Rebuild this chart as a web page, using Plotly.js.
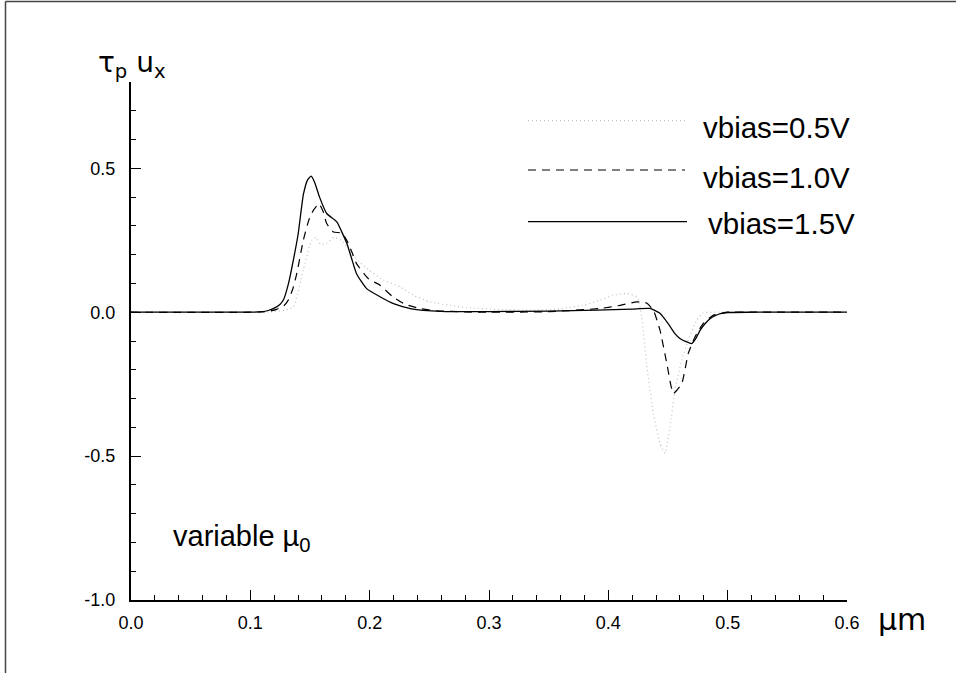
<!DOCTYPE html>
<html>
<head>
<meta charset="utf-8">
<script src="https://cdn.plot.ly/plotly-3.0.1.min.js"></script>
<style>html,body{margin:0;padding:0;background:#fff;}#chart{width:956px;height:673px;}</style>
</head>
<body>
<div id="chart"></div>
<script>
// ---- data ----
const seriesNames = ["vbias=0.5V", "vbias=1.0V", "vbias=1.5V"];

const x05 = [0, 0.10, 0.12, 0.13, 0.136, 0.1444, 0.1514, 0.155, 0.159, 0.164, 0.17, 0.176, 0.182, 0.19, 0.2, 0.21, 0.2254, 0.2366, 0.2506, 0.2673, 0.2813, 0.309, 0.337, 0.36, 0.38, 0.393, 0.404, 0.415, 0.424, 0.428, 0.432, 0.4377, 0.4433, 0.4475, 0.4517, 0.4559, 0.4615, 0.467, 0.474, 0.479, 0.49, 0.52, 0.6];
const y05 = [0, 0, 0.002, 0.008, 0.018, 0.146, 0.25, 0.26, 0.235, 0.24, 0.26, 0.25, 0.22, 0.18, 0.145, 0.115, 0.088, 0.059, 0.036, 0.024, 0.016, 0.009, 0.007, 0.012, 0.025, 0.042, 0.059, 0.065, 0.053, -0.016, -0.178, -0.352, -0.456, -0.49, -0.398, -0.27, -0.167, -0.097, -0.028, -0.003, 0, 0, 0];

const x10 = [0, 0.10, 0.115, 0.122, 0.128, 0.1318, 0.1355, 0.1389, 0.1444, 0.149, 0.1528, 0.1575, 0.161, 0.164, 0.1696, 0.1766, 0.1808, 0.185, 0.189, 0.1988, 0.2087, 0.219, 0.2296, 0.242, 0.256, 0.28, 0.30, 0.35, 0.393, 0.41, 0.4238, 0.432, 0.4377, 0.4433, 0.449, 0.4545, 0.4615, 0.467, 0.4726, 0.4796, 0.488, 0.4936, 0.50, 0.52, 0.6];
const y10 = [0, 0, 0.003, 0.01, 0.022, 0.042, 0.08, 0.134, 0.25, 0.32, 0.354, 0.377, 0.35, 0.308, 0.279, 0.275, 0.25, 0.21, 0.169, 0.117, 0.094, 0.055, 0.028, 0.013, 0.005, 0.001, 0, 0.002, 0.013, 0.024, 0.036, 0.032, 0.007, -0.0625, -0.178, -0.282, -0.248, -0.143, -0.086, -0.039, -0.01, -0.005, 0, 0, 0];

const x15 = [0, 0.10, 0.11, 0.115, 0.12, 0.125, 0.128, 0.132, 0.136, 0.140, 0.1445, 0.148, 0.151, 0.154, 0.158, 0.164, 0.1725, 0.1765, 0.181, 0.185, 0.189, 0.1975, 0.209, 0.22, 0.235, 0.26, 0.30, 0.35, 0.39, 0.42, 0.435, 0.443, 0.4475, 0.452, 0.456, 0.46, 0.465, 0.4698, 0.4735, 0.477, 0.481, 0.4855, 0.4895, 0.494, 0.50, 0.52, 0.6];
const y15 = [0, 0, 0.002, 0.006, 0.014, 0.028, 0.045, 0.10, 0.18, 0.27, 0.41, 0.46, 0.473, 0.45, 0.40, 0.343, 0.314, 0.28, 0.238, 0.185, 0.134, 0.082, 0.053, 0.03, 0.012, 0.003, 0.002, 0.004, 0.007, 0.011, 0.013, -0.003, -0.025, -0.051, -0.075, -0.091, -0.102, -0.109, -0.09, -0.062, -0.04, -0.022, -0.012, -0.005, -0.001, 0, 0];

const xTickVals = [0, 0.1, 0.2, 0.3, 0.4, 0.5, 0.6];
const xTickText = ["0.0", "0.1", "0.2", "0.3", "0.4", "0.5", "0.6"];
const yTickVals = [-1, -0.5, 0, 0.5];
const yTickText = ["-1.0", "-0.5", "0.0", "0.5"];

// ---- styles ----
const FONT = "Liberation Sans, Arial, sans-serif";
const styles = [
  {color: "#c4c4c4", dash: "1px,3px", width: 1.3},
  {color: "#000000", dash: "8px,6px", width: 1.2},
  {color: "#000000", dash: "solid", width: 1.3}
];

const traces = [[x05, y05], [x10, y10], [x15, y15]].map((d, i) => ({
  x: d[0], y: d[1], type: "scatter", mode: "lines", name: seriesNames[i],
  line: {color: styles[i].color, dash: styles[i].dash, width: styles[i].width, shape: "spline", smoothing: 0.5},
  hoverinfo: "skip"
}));

// paper coordinate helpers (plot area: 131..847 px horizontally, 82..600 px vertically)
const L = 131, R = 847, T = 82, B = 600;
const px = v => (v - L) / (R - L);
const py = v => (B - v) / (B - T);

const legendRows = [
  {lineY: 120.7, x0: 528, x1: 687, textX: 700.5, textY: 127.5},
  {lineY: 170.0, x0: 528, x1: 685, textX: 700.5, textY: 177.0},
  {lineY: 221.7, x0: 528, x1: 687, textX: 705.5, textY: 223.0}
];

const shapes = [];
legendRows.forEach((r, i) => {
  shapes.push({type: "line", xref: "paper", yref: "paper",
    x0: px(r.x0), x1: px(r.x1), y0: py(r.lineY), y1: py(r.lineY),
    line: {color: styles[i].color, dash: styles[i].dash, width: styles[i].width}});
});
// frame lines of the original picture
shapes.push({type: "line", xref: "paper", yref: "paper", x0: px(5.5), x1: px(956), y0: py(1.5), y1: py(1.5), line: {color: "#444", width: 1.5}});
shapes.push({type: "line", xref: "paper", yref: "paper", x0: px(5.5), x1: px(5.5), y0: py(1.5), y1: py(673), line: {color: "#444", width: 1.5}});

const annotations = legendRows.map((r, i) => ({
  xref: "paper", yref: "paper", x: px(r.textX), y: py(r.textY),
  xanchor: "left", yanchor: "middle", showarrow: false,
  text: seriesNames[i], font: {family: FONT, size: 29.5, color: "#000"}
}));
annotations.push({xref: "paper", yref: "paper", x: px(96), y: py(64), xanchor: "left", yanchor: "middle", showarrow: false,
  text: "τ<sub>p</sub> u<sub>x</sub>", font: {family: "DejaVu Sans, sans-serif", size: 28, color: "#000"}});
annotations.push({xref: "paper", yref: "paper", x: px(171), y: py(538), xanchor: "left", yanchor: "middle", showarrow: false,
  text: "variable µ<sub>0</sub>", font: {family: FONT, size: 29, color: "#000"}});
annotations.push({xref: "paper", yref: "paper", x: px(876), y: py(619), xanchor: "left", yanchor: "middle", showarrow: false,
  text: "µm", font: {family: "DejaVu Sans, sans-serif", size: 30, color: "#000"}});

const layout = {
  width: 956, height: 673,
  margin: {l: L, r: 956 - R, t: T, b: 673 - B, pad: 0},
  paper_bgcolor: "#fff", plot_bgcolor: "#fff",
  showlegend: false,
  font: {family: FONT, color: "#000"},
  xaxis: {
    range: [0, 0.6], showgrid: false, zeroline: false,
    showline: true, linecolor: "#000", linewidth: 2, mirror: false,
    ticks: "inside", ticklen: 10, tickwidth: 1, tickcolor: "#000",
    tickmode: "array", tickvals: xTickVals, ticktext: xTickText,
    tickfont: {family: FONT, size: 18, color: "#000"}, ticklabelstandoff: 5,
    minor: {dtick: 0.02, tick0: 0, ticks: "inside", ticklen: 5, tickwidth: 1, tickcolor: "#000", showgrid: false}
  },
  yaxis: {
    range: [-1, 0.8], showgrid: false, zeroline: false,
    showline: true, linecolor: "#000", linewidth: 2, mirror: false,
    ticks: "inside", ticklen: 10, tickwidth: 1, tickcolor: "#000",
    tickmode: "array", tickvals: yTickVals, ticktext: yTickText,
    tickfont: {family: FONT, size: 18, color: "#000"}, ticklabelstandoff: 10,
    minor: {dtick: 0.1, tick0: 0, ticks: "inside", ticklen: 5, tickwidth: 1, tickcolor: "#000", showgrid: false}
  },
  shapes: shapes,
  annotations: annotations
};

Plotly.newPlot("chart", traces, layout, {staticPlot: true, displayModeBar: false});
</script>
</body>
</html>
